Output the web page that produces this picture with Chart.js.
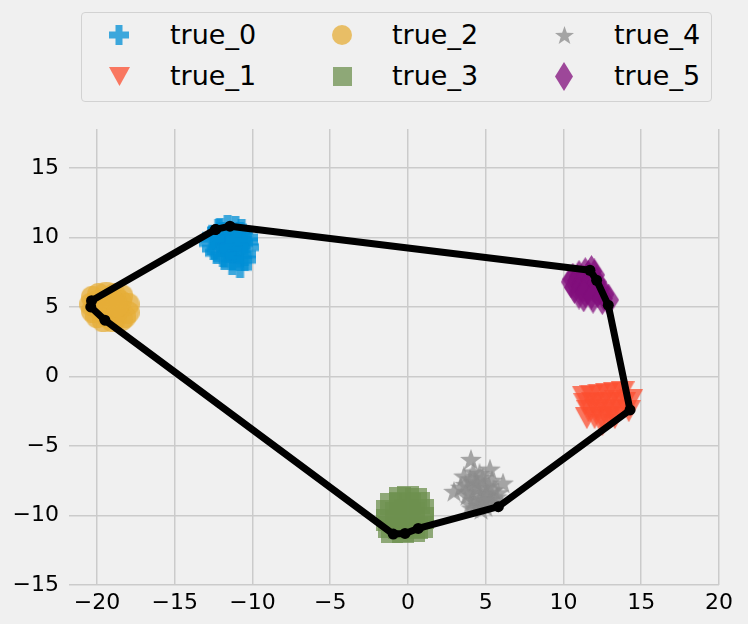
<!DOCTYPE html>
<html lang="en">
<head>
<meta charset="UTF-8">
<title>Cluster scatter with hull</title>
<script src="https://cdn.jsdelivr.net/npm/chart.js"></script>
<style>
    html, body { margin: 0; padding: 0; background: #f0f0f0; }
    #wrap { position: relative; width: 748px; height: 624px; }
    #chart { position: absolute; left: 0; top: 0; }
    #legend {
        position: absolute; left: 81px; top: 12px; width: 631px; height: 90px;
        border: 1px solid #d2d2d2; border-radius: 4px; box-sizing: border-box;
        background: #f0f0f0;
    }
    .lg-icon { position: absolute; }
    .lg-text {
        position: absolute; height: 40px; line-height: 40px; white-space: nowrap;
        font-family: 'DejaVu Sans', sans-serif; font-size: 27px; color: #000;
    }
</style>
</head>
<body>
<div id="wrap">
    <canvas id="chart" width="748" height="624"></canvas>
    <div id="legend"></div>
</div>
<script>
// series labels / colours / marker shapes
const labels = ['true_0', 'true_1', 'true_2', 'true_3', 'true_4', 'true_5'];
const colors = ['#008fd5', '#fc4f30', '#e5ae38', '#6d904f', '#8b8b8b', '#810f7c'];
const shapes = ['plus', 'triangleDown', 'circle', 'square', 'star', 'thinDiamond'];

// cluster points
const x0 = [-12.1,-11.6,-11.1,-10.7,-12.5,-11.9,-11.3,-10.8,-10.4,-12.7,-11.8,-11.2,-10.7,-10.3,-12.3,-11.6,-11.0,-10.5,-11.8,-11.3,-10.8,-11.3,-10.8,-10.5,-12.0,-12.2,-11.0,-11.5,-10.4,-12.5,-12.6,-11.9];
const y0 = [10.6,10.8,10.7,10.5,10.1,10.3,10.2,10.3,10.0,9.6,9.7,9.6,9.6,9.3,8.9,9.0,9.1,8.8,8.5,8.5,8.4,8.1,7.9,8.4,9.4,10.5,9.9,9.3,9.7,9.2,9.9,8.7];

const x1 = [11.3,11.8,12.3,12.8,13.3,13.8,11.4,11.9,12.4,12.9,13.4,13.9,14.35,11.6,12.1,12.6,13.1,13.6,11.5,12.0,12.5,13.0,12.5,13.3,14.2];
const y1 = [-1.45,-1.4,-1.3,-1.25,-1.2,-1.15,-2.0,-1.9,-2.0,-1.9,-1.8,-1.9,-1.7,-2.5,-2.4,-2.6,-2.5,-2.4,-3.0,-3.0,-3.1,-2.9,-3.5,-3.0,-2.5];

const x2 = [-20.3,-19.9,-19.4,-18.9,-18.4,-20.4,-20.0,-19.5,-19.0,-18.5,-18.0,-20.3,-19.8,-19.2,-18.6,-18.0,-20.0,-19.4,-18.8,-18.2,-19.6,-19.0,-18.4,-19.2,-18.7];
const y2 = [5.7,5.9,6.0,5.9,5.8,5.2,5.4,5.3,5.5,5.4,5.2,4.7,4.8,4.9,4.8,4.6,4.3,4.4,4.2,4.3,4.0,4.0,4.1,5.0,5.1];

const x3 = [-0.5,0.0,0.5,-1.1,-0.5,0.1,0.7,-1.35,-0.8,-0.2,0.4,0.95,-1.35,-0.8,-0.2,0.4,0.95,-1.2,-0.6,0.0,0.6,0.9,-1.0,-0.3,0.4];
const y3 = [-8.75,-8.7,-8.8,-9.2,-9.1,-9.2,-9.1,-9.7,-9.8,-9.6,-9.8,-9.6,-10.3,-10.4,-10.2,-10.4,-10.2,-10.8,-10.9,-10.7,-10.9,-10.8,-11.2,-11.2,-11.1];

const x4 = [4.05,5.27,6.11,2.96,3.6,4.2,4.8,5.4,3.7,4.3,4.9,5.5,3.9,4.5,5.1,5.7,4.2,4.8,5.4,4.5,5.0,4.0,4.6,3.4,5.8,4.0,4.6,5.2,3.8,4.4,5.0,4.1,4.7,5.3,4.4,4.9];
const y4 = [-6.0,-6.7,-7.7,-8.3,-7.2,-6.9,-7.3,-7.5,-7.8,-7.6,-8.0,-8.2,-8.4,-8.3,-8.6,-8.7,-8.9,-9.0,-9.1,-9.3,-9.4,-9.2,-8.8,-8.0,-8.4,-7.4,-7.0,-7.9,-8.6,-8.0,-8.5,-9.5,-9.6,-8.9,-7.7,-8.9];

const x5 = [11.8,11.4,11.0,10.6,11.6,12.0,10.5,10.9,11.3,11.7,12.1,10.7,11.1,11.5,11.9,12.3,11.0,11.4,11.8,12.2,12.6,11.3,11.9,12.5,12.9];
const y5 = [7.55,7.4,7.2,7.0,7.2,7.3,6.8,6.9,6.8,6.9,6.8,6.4,6.5,6.4,6.5,6.3,6.0,6.1,6.0,6.1,5.9,5.8,5.7,5.6,5.5];

// hull outline
const hullX = [-12.37,-11.45,11.7,12.13,12.88,14.28,5.81,0.66,-0.19,-0.95,-19.49,-20.4,-20.35,-12.37];
const hullY = [10.58,10.81,7.64,6.92,5.13,-2.41,-9.37,-10.93,-11.29,-11.34,4.05,5.0,5.45,10.58];

// axis ticks
const xTicks = [-20, -15, -10, -5, 0, 5, 10, 15, 20];
const yTicks = [-15, -10, -5, 0, 5, 10, 15];

const seriesX = [x0, x1, x2, x3, x4, x5];
const seriesY = [y0, y1, y2, y3, y4, y5];

function makeMarker(shape, color, k) {
    const dims = {
        plus: [20, 20], triangleDown: [21, 19], circle: [20, 20],
        square: [19, 19], star: [19, 19], thinDiamond: [18, 29]
    }[shape];
    const w = Math.round(dims[0] * k), h = Math.round(dims[1] * k);
    const c = document.createElement('canvas');
    c.width = w; c.height = h;
    const g = c.getContext('2d');
    g.globalAlpha = 0.75;
    g.fillStyle = color;
    g.beginPath();
    if (shape === 'plus') {
        const t = 7 * k, a = (w - t) / 2;
        g.rect(a, 0, t, h);
        g.rect(0, a, w, t);
    } else if (shape === 'triangleDown') {
        g.moveTo(0, 0); g.lineTo(w, 0); g.lineTo(w / 2, h); g.closePath();
    } else if (shape === 'circle') {
        g.arc(w / 2, h / 2, w / 2, 0, Math.PI * 2);
    } else if (shape === 'square') {
        g.rect(0, 0, w, h);
    } else if (shape === 'star') {
        const cx = w / 2, cy = 10 * k, R = 10 * k, r = 4 * k;
        for (let n = 0; n < 10; n++) {
            const ang = -Math.PI / 2 + n * Math.PI / 5;
            const rad = n % 2 === 0 ? R : r;
            const px = cx + rad * Math.cos(ang), py = cy + rad * Math.sin(ang);
            if (n === 0) g.moveTo(px, py); else g.lineTo(px, py);
        }
        g.closePath();
    } else if (shape === 'thinDiamond') {
        g.moveTo(w / 2, 0); g.lineTo(w, h / 2); g.lineTo(w / 2, h); g.lineTo(0, h / 2); g.closePath();
    }
    g.fill();
    return c;
}

const datasets = [{
    label: 'hull',
    data: hullX.map((x, i) => ({ x: x, y: hullY[i] })),
    showLine: true,
    borderColor: '#000',
    borderWidth: 7,
    borderJoinStyle: 'round',
    tension: 0,
    pointRadius: 5.5,
    pointBackgroundColor: '#000',
    pointBorderWidth: 0
}];

labels.forEach((lab, i) => {
    datasets.push({
        label: lab,
        data: seriesX[i].map((x, j) => ({ x: x, y: seriesY[i][j] })),
        pointStyle: makeMarker(shapes[i], colors[i], 1.15),
        pointRadius: 10
    });
});

const fmt = v => String(v).replace('-', '\u2212');

new Chart(document.getElementById('chart'), {
    type: 'scatter',
    data: { datasets: datasets },
    options: {
        responsive: false,
        animation: false,
        layout: { padding: { top: 129, right: 29, left: 0, bottom: 0 } },
        plugins: { legend: { display: false }, tooltip: { enabled: false } },
        scales: {
            x: {
                type: 'linear', min: -21.8, max: 20,
                border: { display: false },
                grid: { color: '#cbcbcb', lineWidth: 1.5, drawTicks: false },
                ticks: { color: '#000', font: { family: 'DejaVu Sans', size: 22 }, padding: 5, callback: fmt },
                afterBuildTicks: s => { s.ticks = xTicks.map(v => ({ value: v })); },
                afterFit: s => { s.height = 39; }
            },
            y: {
                type: 'linear', min: -15, max: 17.8,
                border: { display: false },
                grid: { color: '#cbcbcb', lineWidth: 1.5, drawTicks: false },
                ticks: { color: '#000', font: { family: 'DejaVu Sans', size: 22 }, padding: 10, callback: fmt },
                afterBuildTicks: s => { s.ticks = yTicks.map(v => ({ value: v })); },
                afterFit: s => { s.width = 69; }
            }
        }
    }
});

// legend, three columns filled top to bottom
const legend = document.getElementById('legend');
const colIcon = [118, 341, 563], colText = [169, 391, 613], rowY = [34, 75];
labels.forEach((lab, i) => {
    const col = Math.floor(i / 2), row = i % 2;
    const icon = makeMarker(shapes[i], colors[i], 1);
    icon.className = 'lg-icon';
    icon.style.left = (colIcon[col] - 81 - icon.width / 2) + 'px';
    icon.style.top = (rowY[row] - 12 - icon.height / 2) + 'px';
    legend.appendChild(icon);
    const t = document.createElement('span');
    t.className = 'lg-text';
    t.textContent = lab;
    t.style.left = (colText[col] - 81) + 'px';
    t.style.top = (rowY[row] - 12 - 20) + 'px';
    legend.appendChild(t);
});
</script>
</body>
</html>
